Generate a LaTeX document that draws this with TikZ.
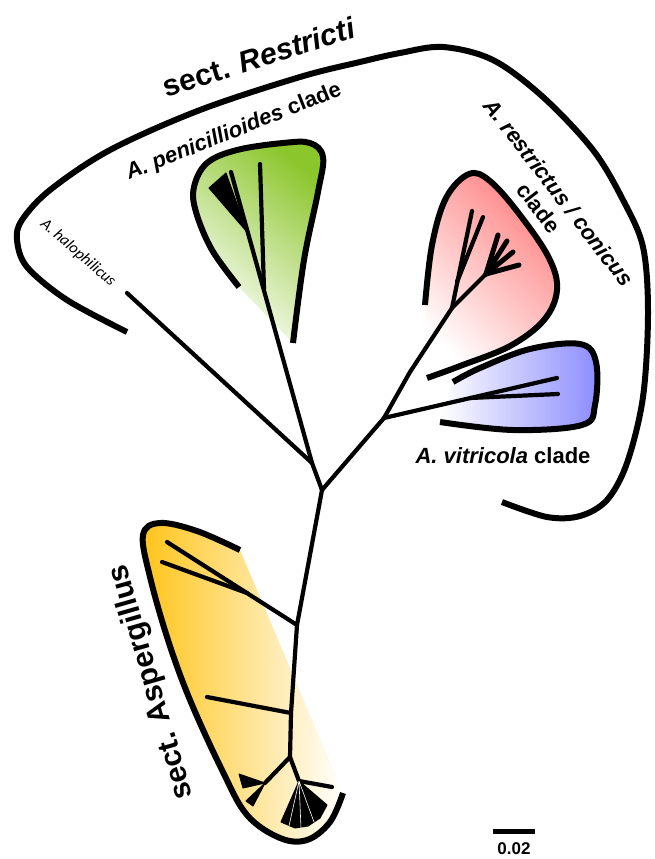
\documentclass[tikz,border=0pt]{standalone}
\usepackage{fontspec}
\setmainfont{Liberation Sans}
\newfontfamily\carlito{Carlito}
\definecolor{gGreen}{RGB}{140,198,45}
\definecolor{gRed}{RGB}{255,130,130}
\definecolor{gBlue}{RGB}{140,140,255}
\definecolor{gYel}{RGB}{255,196,25}
\begin{document}
\begin{tikzpicture}[x=1pt,y=-1pt,
  branch/.style={line width=4.2pt, line cap=round, line join=round},
  outline/.style={line width=6pt, line join=round},
  wedge/.style={fill=black, draw=black, line width=1pt, line join=round},
  lab/.style={font=\bfseries\fontsize{22}{25}\selectfont, inner sep=0pt},
  biglab/.style={font=\bfseries\fontsize{30}{34}\selectfont, inner sep=0pt}]
\useasboundingbox[fill=white] (0,0) rectangle (654,859);

% ---------- clade fills ----------
\path[top color=gGreen, bottom color=white, shading angle=-40]
  plot[smooth, tension=0.6] coordinates {(239,287) (212,250) (196,212) (194,187) (207,163) (237,150) (283,143) (310,143) (323,157) (318,192) (304,260) (293,343)} -- cycle;
\path[top color=gRed, bottom color=white, shading angle=-45]
  plot[smooth, tension=0.6] coordinates {(425,305) (432,245) (446,198) (469,174) (490,181) (520,215) (549,258) (557,290) (544,320) (510,346) (460,366) (427,378)} -- cycle;
\path[left color=white, right color=gBlue]
  plot[smooth, tension=0.6] coordinates {(453,382) (480,368) (530,349) (580,344) (596,362) (595,405) (582,425) (513,430) (440,422)} -- cycle;
\path[left color=gYel, right color=white]
  plot[smooth, tension=0.6] coordinates {(240,550) (197,531) (160,523) (143,535) (150,577) (168,640) (190,700) (222,770) (247,815) (280,838) (307,840) (330,822) (343,793)} -- cycle;

% ---------- clade outlines ----------
\draw[outline] plot[smooth, tension=0.6] coordinates {(239,287) (212,250) (196,212) (194,187) (207,163) (237,150) (283,143) (310,143) (323,157) (318,192) (304,260) (293,343)};
\draw[outline] plot[smooth, tension=0.6] coordinates {(425,305) (432,245) (446,198) (469,174) (490,181) (520,215) (549,258) (557,290) (544,320) (510,346) (460,366) (427,378)};
\draw[outline] plot[smooth, tension=0.6] coordinates {(453,382) (480,368) (530,349) (580,344) (596,362) (595,405) (582,425) (513,430) (440,422)};
\draw[outline] plot[smooth, tension=0.6] coordinates {(240,550) (197,531) (160,523) (143,535) (150,577) (168,640) (190,700) (222,770) (247,815) (280,838) (307,840) (330,822) (343,793)};

% ---------- section bracket ----------
\draw[outline] plot[smooth, tension=0.55] coordinates {(127,332) (67,300) (27,267) (17,240) (22,220) (50,190) (110,150) (200,110) (300,77) (360,62) (400,53) (443,47) (493,60) (543,97) (593,150) (623,200) (643,247) (648,313) (643,397) (627,463) (607,500) (580,516) (547,517) (502,502)};

% ---------- tree coordinates ----------
\coordinate (root) at (322,490);
\coordinate (jL) at (312,463);
\coordinate (hal) at (127,293);
\coordinate (gS) at (231,172);
\coordinate (gV1) at (260,164);
\coordinate (gV2) at (264,289);
\coordinate (gW1) at (209,188);
\coordinate (gW2) at (226,173);
\coordinate (gWa) at (247,232);
\coordinate (jB) at (384,418);
\coordinate (rA) at (410,372);
\coordinate (r1) at (452,308);
\coordinate (rT1) at (472,211);
\coordinate (rB) at (457,282);
\coordinate (rT2) at (483,217);
\coordinate (r2) at (486,274);
\coordinate (rF1) at (498,235);
\coordinate (rF2) at (507,241);
\coordinate (rF3) at (513,252);
\coordinate (rF4) at (519,265);
\coordinate (bT1) at (557,378);
\coordinate (bJ) at (470,398);
\coordinate (bT2) at (558,394);
\coordinate (y1) at (297,625);
\coordinate (y2) at (291,713);
\coordinate (y3) at (290,757);
\coordinate (yT1) at (167,542);
\coordinate (yJ) at (247,593);
\coordinate (yT2) at (162,562);
\coordinate (yT3) at (207,697);
\coordinate (yL) at (265,783);
\coordinate (yR) at (299,781);
\coordinate (yT4) at (332,787);

% ---------- tree branches ----------
\draw[branch] (root) -- (jL) -- (hal);
\draw[branch] (jL) -- (gS);
\draw[branch] (gV1) -- (gV2);
\filldraw[wedge] (gW1) -- (gW2) -- (gWa) -- cycle;
\draw[branch] (root) -- (jB) -- (rA) -- (r1) -- (rT1);
\draw[branch] (rB) -- (rT2);
\draw[branch] (r1) -- (r2);
\draw[branch, line width=5pt] (r2) -- (rF1);
\draw[branch, line width=5pt] (r2) -- (rF2);
\draw[branch, line width=5pt] (r2) -- (rF3);
\draw[branch, line width=5pt] (r2) -- (rF4);
\draw[branch] (jB) -- (bT1);
\draw[branch] (bJ) -- (bT2);
\draw[branch] (root) -- (y1) -- (y2) -- (y3);
\draw[branch] (y1) -- (yT1);
\draw[branch] (yJ) -- (yT2);
\draw[branch] (y2) -- (yT3);
\draw[branch] (y3) -- (yL);
\draw[branch] (y3) -- (yR) -- (yT4);
\filldraw[wedge] (yL) -- (239,774) -- (243,788) -- cycle;
\filldraw[wedge] (yL) -- (246,801) -- (253,806) -- cycle;
\filldraw[wedge] (yR) -- (281,822) -- (295,828) -- (308,826) -- (320,818) -- (327,805) -- cycle;
\draw[white, line width=0.6pt] (yR) -- (289,826) (yR) -- (301,828) (yR) -- (314,822);

% ---------- scale bar ----------
\coordinate (sb1) at (493,831);
\coordinate (sb2) at (535,831);
\draw[line width=5pt] (sb1) -- (sb2);
\node[font=\bfseries\fontsize{17}{20}\selectfont, inner sep=0pt] (scl) at (514,849) {0.02};

% ---------- labels ----------
\node[biglab, rotate=17.5] (restr) at (259,57) {sect. \textit{Restricti}};
\node[lab, rotate=21.8] (peni) at (234,132) {\textit{A. penicillioides} clade};
\node[lab, rotate=-52.5, align=center] (restc) at (549,200) {\textit{A. restrictus / conicus}\\clade};
\node[lab] (vitr) at (503,456) {\textit{A. vitricola} clade};
\node[inner sep=0pt, rotate=-41, font=\carlito\itshape\fontsize{16}{18}\selectfont] (halo) at (78,253) {A. halophilicus};
\node[biglab, rotate=106] (asp) at (152,682) {sect. Aspergillus};
\end{tikzpicture}
\end{document}
